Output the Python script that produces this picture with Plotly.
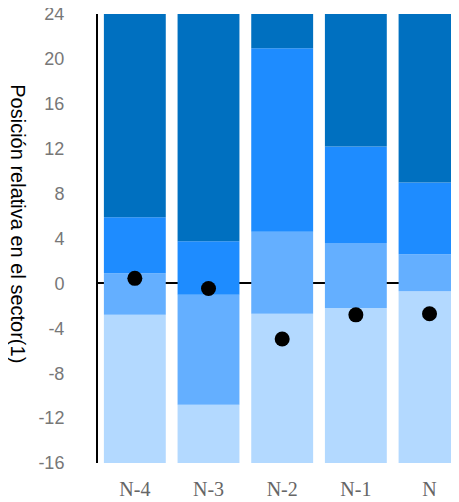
import plotly.graph_objects as go

categories = ["N-4", "N-3", "N-2", "N-1", "N"]
axis_min = -16
axis_max = 24
lower_cut = [-2.8, -10.8, -2.7, -2.2, -0.7]   # light / light-medium boundary
middle_cut = [0.9, -1.0, 4.6, 3.6, 2.6]        # light-medium / medium boundary
upper_cut = [5.9, 3.75, 20.95, 12.2, 9.0]      # medium / dark boundary
company_value = [0.45, -0.45, -4.95, -2.8, -2.7]
y_ticks = [-16, -12, -8, -4, 0, 4, 8, 12, 16, 20, 24]
y_tick_text = ["-16", "-12", "-8", "-4", "0", "4", "8", "12", "16", "20", "24"]

colors = ["#B3D9FF", "#64AFFF", "#1E8CFF", "#0070C0"]

bases = [
    [axis_min] * len(categories),
    lower_cut,
    middle_cut,
    upper_cut,
]
tops = [lower_cut, middle_cut, upper_cut, [axis_max] * len(categories)]

fig = go.Figure()
for b, t, c in zip(bases, tops, colors):
    fig.add_trace(go.Bar(
        x=categories,
        y=[tt - bb for tt, bb in zip(t, b)],
        base=b,
        marker=dict(color=c, line=dict(width=0)),
        width=0.84,
        showlegend=False,
        hoverinfo="skip",
    ))

fig.add_trace(go.Scatter(
    x=categories, y=company_value, mode="markers",
    marker=dict(color="black", size=15),
    showlegend=False,
))

fig.update_layout(
    width=451, height=494,
    margin=dict(l=90, r=0, t=6, b=39, autoexpand=False),
    barmode="overlay",
    plot_bgcolor="white", paper_bgcolor="white",
    xaxis=dict(
        range=[-0.5, 4.4],
        automargin=False,
        showgrid=False, zeroline=False, showline=False,
        ticks="outside", ticklen=8, tickcolor="rgba(0,0,0,0)",
        tickfont=dict(family="Liberation Serif, Times New Roman, serif", size=20, color="#666666"),
    ),
    yaxis=dict(
        range=[axis_min, axis_max],
        automargin=False,
        tickvals=y_ticks, ticktext=y_tick_text,
        ticklabeloverflow="allow",
        showgrid=False,
        zeroline=True, zerolinecolor="black", zerolinewidth=2,
        showline=True, linecolor="black", linewidth=2,
        ticks="outside", ticklen=28, tickcolor="rgba(0,0,0,0)",
        tickfont=dict(family="Liberation Sans, Arial, sans-serif", size=18, color="#777777"),
    ),
    annotations=[dict(
        text="Posición relativa en el sector(1)",
        textangle=90,
        xref="paper", yref="paper",
        x=-0.222, y=0.532, xanchor="center", yanchor="middle",
        showarrow=False,
        font=dict(family="Liberation Sans, Arial, sans-serif", size=20, color="black"),
    )],
)

fig.write_html("out.html")
